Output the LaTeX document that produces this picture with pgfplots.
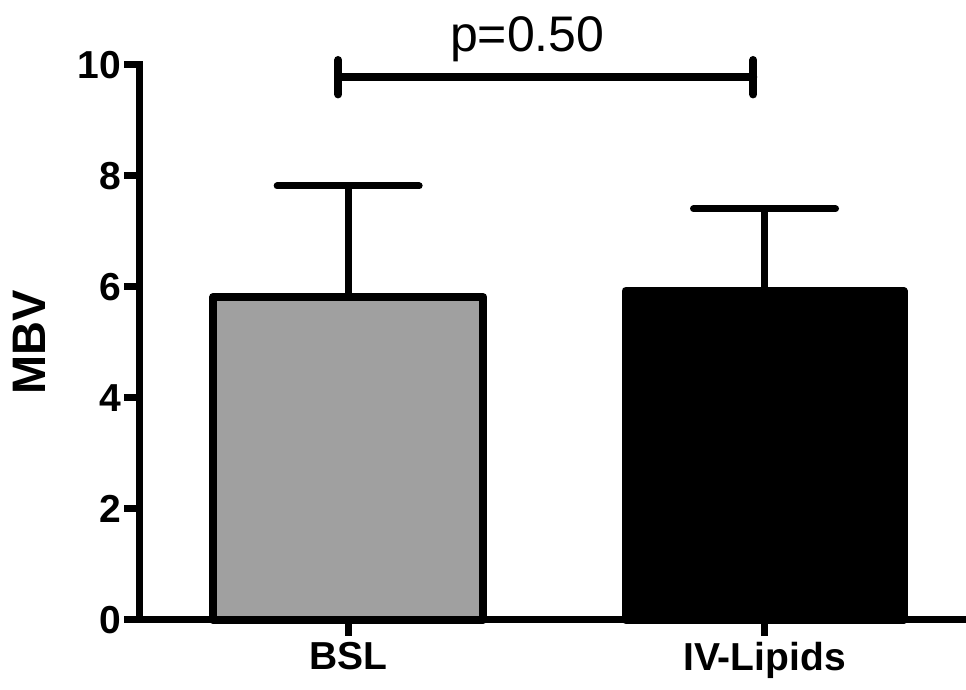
\documentclass[border=0pt]{standalone}
\usepackage{fontspec}
\setmainfont{Liberation Sans}
\usepackage{pgfplots}
\pgfplotsset{compat=1.18}
\definecolor{barGray}{RGB}{160,160,160}

\begin{document}
\begin{tikzpicture}
\begin{axis}[
  scale only axis,
  width=826pt, height=555pt,
  xmin=-0.5, xmax=1.484,
  ymin=0, ymax=10,
  axis lines*=left,
  axis line style={line width=7pt, line cap=rect},
  xtick={0,1}, xticklabels={BSL, IV-Lipids},
  ytick={0,2,...,10},
  tick align=outside,
  major tick length=16pt,
  tick style={line width=7pt, black},
  ticklabel style={font=\fontsize{39}{39}\selectfont\bfseries},
  yticklabel style={inner sep=3pt},
  xticklabel style={inner sep=6pt},
  /pgf/number format/assume math mode=true,
  ylabel={MBV},
  ylabel style={font=\fontsize{47}{47}\selectfont\bfseries,
                at={(axis description cs:-0.1338,0.5)}, anchor=center},
  clip=false,
]
% baseline group: mean with SD above
\addplot[ybar, bar width=270pt, bar shift=0pt, fill=barGray, draw=black,
         line width=8pt, line join=round,
         error bars/.cd, y dir=plus, y explicit, error mark=|,
         error bar style={line width=7pt, black},
         error mark options={mark size=71pt, line width=7pt, line cap=round, black}]
  coordinates {(0,5.82) +- (0,2.00)};
% lipid infusion group
\addplot[ybar, bar width=278pt, bar shift=0pt, fill=black, draw=black,
         line width=8pt, line join=round,
         error bars/.cd, y dir=plus, y explicit, error mark=|,
         error bar style={line width=7pt, black},
         error mark options={mark size=71pt, line width=7pt, line cap=round, black}]
  coordinates {(1,5.93) +- (0,1.48)};

% significance bracket
\draw[line width=8pt, line cap=round]
  (axis cs:-0.024,9.78) -- (axis cs:0.973,9.78)
  (axis cs:-0.024,9.47) -- (axis cs:-0.024,10.09)
  (axis cs:0.973,9.47) -- (axis cs:0.973,10.09);
\node[font=\fontsize{50}{50}\selectfont, anchor=base] at (axis cs:0.43,10.24) {p=0.50};
\end{axis}
\pgfresetboundingbox
\useasboundingbox ([xshift=-140pt,yshift=-70pt]current axis.south west)
  rectangle ([yshift=65pt]current axis.north east);
\end{tikzpicture}
\end{document}
